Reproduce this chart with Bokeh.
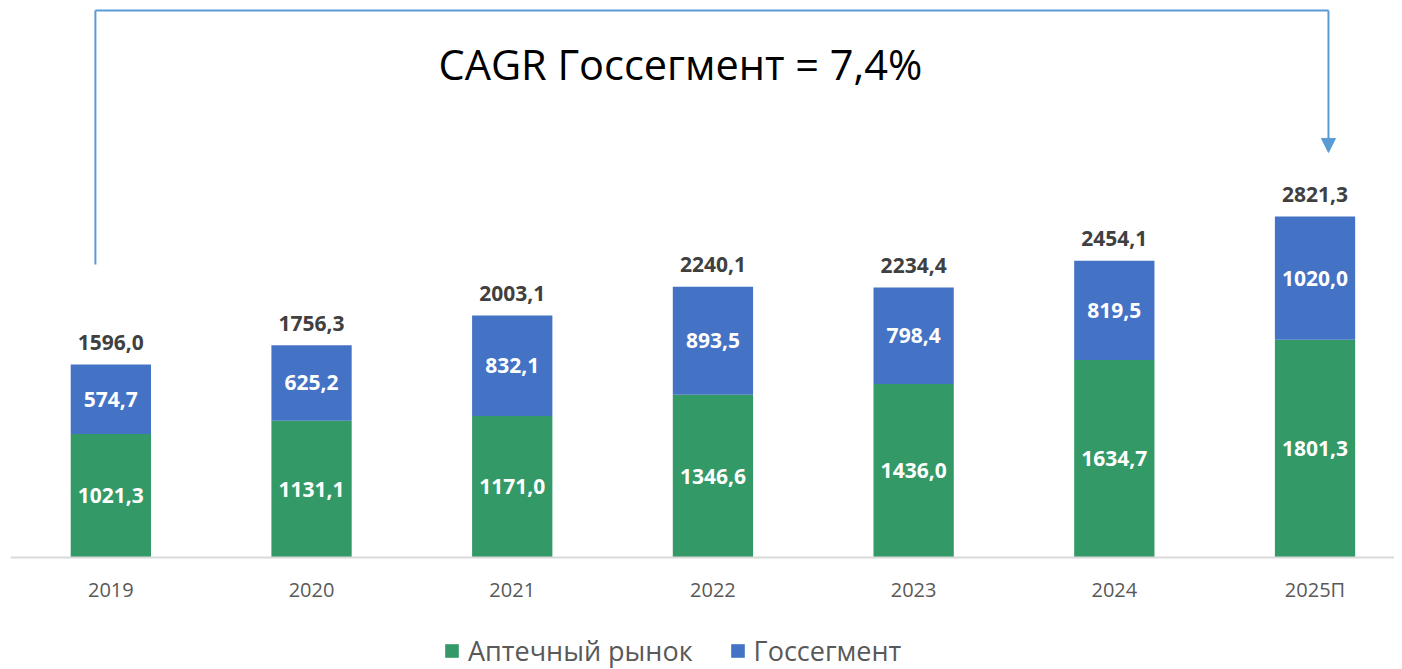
from bokeh.plotting import figure
from bokeh.models import (ColumnDataSource, Range1d, FixedTicker, Legend, LegendItem,
                          Label, Arrow, NormalHead)
from bokeh.core.properties import value
from bokeh.embed import file_html
from bokeh.resources import INLINE

years = ["2019", "2020", "2021", "2022", "2023", "2024", "2025П"]
pharmacy = [1021.3, 1131.1, 1171.0, 1346.6, 1436.0, 1634.7, 1801.3]
gov = [574.7, 625.2, 832.1, 893.5, 798.4, 819.5, 1020.0]
totals = [1596.0, 1756.3, 2003.1, 2240.1, 2234.4, 2454.1, 2821.3]
title_text = "CAGR Госсегмент = 7,4%"

GREEN = "#339966"
BLUE = "#4472C4"
FONT = "Open Sans"

def fmt(v):
    return f"{v:.1f}".replace(".", ",")

idx = list(range(len(years)))
src = ColumnDataSource(dict(
    x=idx,
    ph=pharmacy,
    gv=gov,
    gv_top=[a + b for a, b in zip(pharmacy, gov)],
    ph_mid=[a / 2 for a in pharmacy],
    gv_mid=[a + b / 2 for a, b in zip(pharmacy, gov)],
    tot=totals,
    ph_lbl=[fmt(v) for v in pharmacy],
    gv_lbl=[fmt(v) for v in gov],
    tot_lbl=[fmt(v) for v in totals],
))

p = figure(frame_width=1384, frame_height=661, output_backend="svg", toolbar_location=None,
           x_range=Range1d(-0.5, 6.396), y_range=Range1d(-926.6, 4542),
           min_border_left=10, min_border_right=0, min_border_top=8,
           min_border_bottom=0)
p.outline_line_color = None
p.xgrid.grid_line_color = None
p.ygrid.grid_line_color = None
p.yaxis.visible = False

r_ph = p.vbar(x="x", width=0.4, bottom=0, top="ph", source=src, fill_color=GREEN, line_color=None)
r_gv = p.vbar(x="x", width=0.4, bottom="ph", top="gv_top", source=src, fill_color=BLUE, line_color=None)

p.text(x="x", y="ph_mid", text="ph_lbl", source=src, text_color="white",
       text_font=value(FONT), text_font_style="bold", text_font_size="21px",
       text_align="center", text_baseline="middle")
p.text(x="x", y="gv_mid", text="gv_lbl", source=src, text_color="white",
       text_font=value(FONT), text_font_style="bold", text_font_size="21px",
       text_align="center", text_baseline="middle")
p.text(x="x", y="tot", text="tot_lbl", source=src, text_color="#404040",
       text_font=value(FONT), text_font_style="bold", text_font_size="21px",
       text_align="center", text_baseline="middle", y_offset=-22)

ax = p.xaxis[0]
ax.fixed_location = 0
ax.ticker = FixedTicker(ticks=idx)
ax.major_label_overrides = {i: y for i, y in zip(idx, years)}
ax.major_tick_line_color = None
ax.minor_tick_line_color = None
ax.major_tick_out = 0
ax.major_tick_in = 0
ax.axis_line_color = "#d9d9d9"
ax.axis_line_width = 2
ax.major_label_text_color = "#595959"
ax.major_label_text_font = FONT
ax.major_label_text_font_size = "20px"
ax.major_label_standoff = 18

legend = Legend(items=[LegendItem(label="Аптечный рынок", renderers=[r_ph]),
                       LegendItem(label="Госсегмент", renderers=[r_gv])],
                orientation="horizontal", location=(433, 0),
                label_text_font=FONT, label_text_font_size="27px",
                label_text_color="#595959", glyph_width=17, glyph_height=17,
                spacing=36, label_standoff=8, border_line_color=None,
                background_fill_alpha=0, padding=0, margin=0)
p.add_layout(legend, "center")

# CAGR bracket annotation
LINE = "#5B9BD5"
bx0, bx1 = -0.077, 6.067
by_low, by_top, by_tip = 2424, 4525, 3351
p.add_layout(Arrow(x_start=bx0, y_start=by_low, x_end=bx0, y_end=by_top, end=None,
                   line_color=LINE, line_width=2))
p.add_layout(Arrow(x_start=bx0, y_start=by_top, x_end=bx1, y_end=by_top, end=None,
                   line_color=LINE, line_width=2))
p.add_layout(Arrow(x_start=bx1, y_start=by_top, x_end=bx1, y_end=by_tip,
                   end=NormalHead(size=14, fill_color=LINE, line_color=LINE),
                   line_color=LINE, line_width=2))

p.add_layout(Label(x=2.838, y=4079, text=title_text, text_font=FONT,
                   text_font_size="41.5px", text_color="black",
                   text_align="center", text_baseline="middle"))

open("out.html", "w").write(file_html(p, INLINE))
